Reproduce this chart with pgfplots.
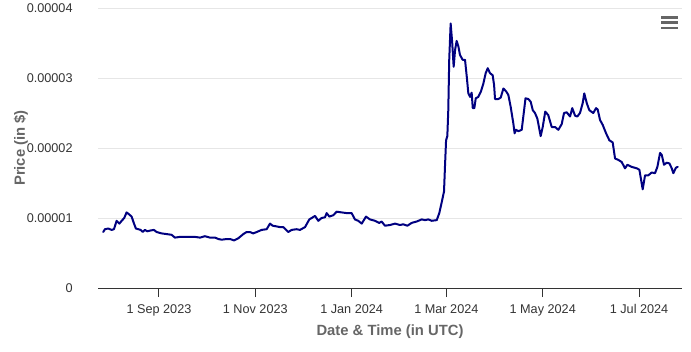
\documentclass[border=0pt]{standalone}
\usepackage{pgfplots}
\pgfplotsset{compat=1.18}
\usepackage{pgfplotstable}
\usepackage{fontspec}
\setmainfont{Liberation Sans}
\definecolor{serie}{RGB}{0,0,128}
\definecolor{ticktxt}{RGB}{51,51,51}
\definecolor{titletxt}{RGB}{102,102,102}
\definecolor{gridc}{RGB}{230,230,230}

% day 0 = 1 Sep 2023 ; price in units of 0.00001 $
\pgfplotstableread{
day price
-35.3 0.80
-34.2 0.84
-32.1 0.85
-30.0 0.83
-28.5 0.84
-26.8 0.96
-25.1 0.92
-23.6 0.96
-22.0 1.00
-20.5 1.08
-18.8 1.05
-17.3 1.02
-15.8 0.92
-14.6 0.85
-13.1 0.84
-11.6 0.83
-10.3 0.80
-8.9 0.83
-7.4 0.81
-5.7 0.82
-3.2 0.83
-1.5 0.80
1.7 0.78
4.9 0.77
8.0 0.76
10.1 0.72
13.3 0.73
16.5 0.73
19.6 0.73
22.8 0.73
26.0 0.72
29.1 0.74
32.3 0.72
35.5 0.72
37.6 0.70
39.7 0.69
42.9 0.70
45.0 0.70
47.5 0.68
50.2 0.71
53.4 0.77
55.5 0.80
57.6 0.80
59.7 0.78
61.9 0.80
65.0 0.83
68.2 0.84
70.3 0.92
72.0 0.89
74.5 0.88
76.6 0.87
78.7 0.87
81.9 0.80
84.0 0.83
87.2 0.84
89.3 0.83
92.5 0.87
95.2 0.98
96.7 1.00
98.8 1.03
100.9 0.96
103.0 1.00
105.1 1.01
106.2 1.07
107.9 1.02
110.4 1.04
112.5 1.09
115.7 1.08
118.9 1.07
122.0 1.07
124.1 0.98
126.2 0.96
128.4 0.92
131.1 1.02
133.6 0.98
136.8 0.96
139.5 0.93
141.0 0.95
143.1 0.89
146.3 0.90
149.5 0.92
152.6 0.90
154.7 0.91
157.3 0.89
160.0 0.93
163.2 0.95
166.4 0.98
168.5 0.97
170.5 0.98
172.7 0.96
175.9 0.97
177.5 1.07
179.0 1.22
180.5 1.38
181.1 1.73
181.8 2.11
182.6 2.17
183.2 2.54
183.8 3.26
184.7 3.78
185.7 3.50
186.6 3.16
187.5 3.40
188.5 3.53
189.6 3.45
190.6 3.33
192.3 3.26
193.8 3.26
194.9 3.02
195.9 2.78
197.0 2.73
198.0 2.79
198.7 2.57
199.7 2.57
200.6 2.71
202.2 2.73
203.9 2.81
205.4 2.92
206.9 3.07
208.2 3.14
209.6 3.07
211.3 3.04
212.2 2.90
212.8 2.70
214.9 2.70
216.4 2.72
218.1 2.85
219.8 2.81
221.2 2.76
222.7 2.59
224.4 2.35
225.2 2.21
226.1 2.26
227.6 2.24
229.7 2.26
231.2 2.54
232.1 2.71
233.9 2.70
235.4 2.66
236.7 2.54
238.1 2.50
239.6 2.42
241.7 2.17
243.0 2.30
244.6 2.52
246.5 2.47
248.7 2.30
250.8 2.30
252.9 2.26
255.0 2.34
256.5 2.50
258.2 2.51
260.3 2.45
261.7 2.57
263.5 2.46
264.9 2.45
266.6 2.50
268.3 2.64
269.3 2.78
270.9 2.64
272.5 2.54
275.0 2.50
276.8 2.57
277.8 2.55
279.3 2.40
281.0 2.33
283.1 2.21
285.2 2.11
287.3 2.08
288.8 1.85
290.9 1.83
293.0 1.80
295.1 1.71
296.6 1.76
299.4 1.73
302.5 1.71
304.2 1.69
305.1 1.57
306.3 1.41
307.8 1.61
309.9 1.61
312.0 1.65
314.1 1.64
315.6 1.73
317.3 1.93
318.4 1.90
319.8 1.76
321.5 1.79
323.2 1.78
324.7 1.71
325.7 1.64
327.4 1.72
328.5 1.73
}\pricedata

\begin{document}
\begin{tikzpicture}
\useasboundingbox (0,0) rectangle (518.25pt,263.25pt);
\begin{axis}[
  at={(73.5pt,47.25pt)}, anchor=south west,
  scale only axis,
  width=438pt, height=210pt,
  xmin=-38.6, xmax=331.2,
  ymin=0, ymax=4,
  axis x line*=bottom,
  axis y line*=left,
  y axis line style={draw=none},
  x axis line style={draw=ticktxt, line width=0.75pt, -},
  xtick={0,61,122,182,243,304},
  xticklabels={1 Sep 2023,1 Nov 2023,1 Jan 2024,1 Mar 2024,1 May 2024,1 Jul 2024},
  ytick={0,1,2,3,4},
  yticklabels={0,0.00001,0.00002,0.00003,0.00004},
  tick align=outside,
  major tick length=6.75pt,
  xtick style={draw=ticktxt, line width=0.75pt},
  ytick style={draw=none},
  ymajorgrids,
  grid style={draw=gridc, line width=0.75pt},
  tick label style={font=\fontsize{9.5}{11}\selectfont, text=ticktxt},
  xticklabel style={anchor=base, yshift=-12pt},
  yticklabel style={anchor=east, xshift=-8.8pt},
  xlabel={Date \& Time (in UTC)},
  ylabel={Price (in \$)},
  label style={font=\fontsize{11.1}{13}\selectfont\bfseries, text=titletxt},
  xlabel style={at={(axis description cs:0.5,0)}, anchor=base, yshift=-35.8pt},
  ylabel style={at={(axis description cs:-0.125,0.5)}, anchor=base, rotate=0},
  clip=true,
]
\addplot[serie, line width=1.5pt, line join=round, line cap=round] table[x=day,y=price] {\pricedata};
\end{axis}
\draw[titletxt, line width=1.9pt] (495.75pt,250.3pt) -- (508.5pt,250.3pt);
\draw[titletxt, line width=1.9pt] (495.75pt,246.2pt) -- (508.5pt,246.2pt);
\draw[titletxt, line width=1.9pt] (495.75pt,242.3pt) -- (508.5pt,242.3pt);
\end{tikzpicture}
\end{document}
